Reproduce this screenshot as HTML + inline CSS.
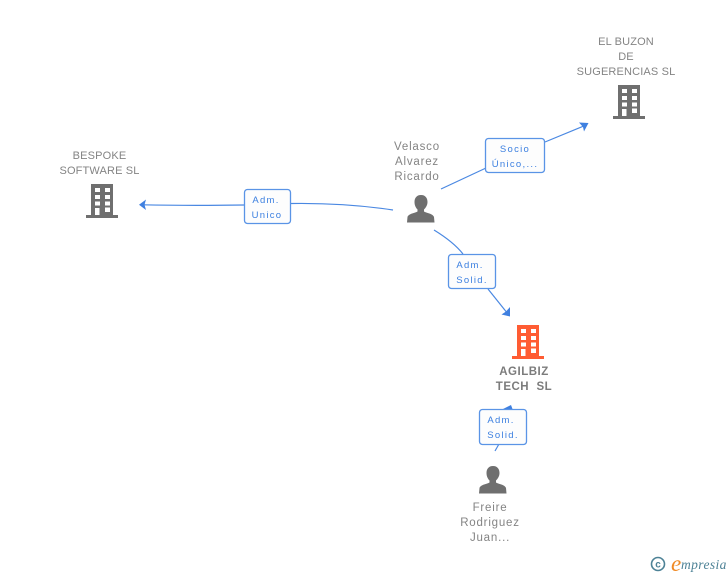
<!DOCTYPE html>
<html><head><meta charset="utf-8">
<style>
html,body{margin:0;padding:0;background:#fff}
svg{display:block}
text{font-family:"Liberation Sans",sans-serif}
.n{font-size:11px;fill:#848484;text-anchor:middle;letter-spacing:.15px}
.p{font-size:11.500px;fill:#848484;text-anchor:middle;letter-spacing:.8px}
.b{font-size:11.500px;fill:#7c7c7c;text-anchor:middle;font-weight:bold;letter-spacing:.5px}
.l{font-size:9.500px;fill:#3b7fe0;text-anchor:middle;letter-spacing:1.300px}
.c{fill:none;stroke:#4a88e2;stroke-width:1.200}
.box{fill:#fdfdfd;stroke:#5a94e6;stroke-width:1.300}
</style></head>
<body>
<svg width="728" height="575" viewBox="0 0 728 575" xmlns="http://www.w3.org/2000/svg">
<defs>
<symbol id="bld" width="32" height="34" viewBox="0 0 32 34" overflow="visible">
<path fill="currentColor" d="M5 0H27V31H32V34H0V31H5Z"/>
<g fill="#fff">
<rect x="9" y="4" width="5" height="4"/><rect x="19" y="4" width="5" height="4"/>
<rect x="9" y="11" width="5" height="4"/><rect x="19" y="11" width="5" height="4"/>
<rect x="9" y="17.500" width="5" height="4"/><rect x="19" y="17.500" width="5" height="4"/>
<rect x="9" y="24" width="4.500" height="7"/><rect x="19" y="23.500" width="5" height="4.500"/>
</g>
</symbol>
<symbol id="per" width="28" height="28" viewBox="0 0 28 28">
<path fill="#6f6f6f" d="M14 0C9.500 0 7.500 3.200 7.500 7C7.500 10.500 9 13 10.500 14.500V16.500C8.500 18 1.500 18.500.5 22L0 27.500H27.500L27 22C26 18.500 19 18 17 16.500V14.500C18.500 13 20.500 10.500 20.500 7C20.500 3.200 18.500 0 14 0Z"/>
</symbol>
</defs>

<!-- connectors -->
<path class="c" d="M441 189L486 168"/>
<path class="c" d="M545 142L585 125.500"/>
<path fill="#3f80e0" d="M588.500 123L579 122.500L583 127L584 131.500Z"/>

<path class="c" d="M393 210C360 205 325 203 291 203.500"/>
<path class="c" d="M244 205C210 205.500 175 205.500 143 204.800"/>
<path fill="#3f80e0" d="M139 204.800L146 199.500L144.500 204.800L146 210Z"/>

<path class="c" d="M434 230C447 238 456 245 463 254"/>
<path class="c" d="M488 289L508 314"/>
<path fill="#3f80e0" d="M510 316.500L510 307L506 311.500L501.500 314.500Z"/>

<path fill="#3f80e0" d="M503 409L511 405L512.500 409Z"/>
<path class="c" d="M499 444L495 451"/>

<!-- label boxes -->
<rect class="box" x="485.500" y="138.500" width="59" height="34" rx="3"/>
<text class="l" x="515" y="152">Socio</text>
<text class="l" x="515" y="167">Único,...</text>

<rect class="box" x="244.500" y="189.500" width="46" height="34" rx="3"/>
<text class="l" x="266" y="203">Adm.</text>
<text class="l" x="267" y="218">Unico</text>

<rect class="box" x="448.500" y="254.500" width="47" height="34" rx="3"/>
<text class="l" x="470" y="268">Adm.</text>
<text class="l" x="472" y="283">Solid.</text>

<rect class="box" x="479.500" y="409.500" width="47" height="35" rx="3"/>
<text class="l" x="501" y="423">Adm.</text>
<text class="l" x="503" y="438">Solid.</text>

<!-- nodes -->
<use href="#bld" x="613" y="85" color="#6f6f6f"/>
<text class="n" x="626" y="45">EL BUZON</text>
<text class="n" x="626" y="60">DE</text>
<text class="n" x="626" y="75">SUGERENCIAS SL</text>

<use href="#bld" x="86" y="184" color="#6f6f6f"/>
<text class="n" x="99.500" y="159">BESPOKE</text>
<text class="n" x="99.500" y="174">SOFTWARE SL</text>

<use href="#bld" x="512" y="325" color="#ff5c33"/>
<text class="b" x="524" y="375">AGILBIZ</text>
<text class="b" x="524" y="390" xml:space="preserve">TECH  SL</text>

<use href="#per" x="407" y="195"/>
<text class="p" x="417" y="150">Velasco</text>
<text class="p" x="417" y="165">Alvarez</text>
<text class="p" x="417" y="180">Ricardo</text>

<use href="#per" x="479" y="466"/>
<text class="p" x="490" y="511">Freire</text>
<text class="p" x="490" y="526">Rodriguez</text>
<text class="p" x="490" y="541">Juan...</text>

<!-- logo -->
<circle cx="658" cy="564" r="6.500" fill="none" stroke="#4d8296" stroke-width="1.600"/>
<text x="658" y="567.500" font-size="10" text-anchor="middle" fill="#4d8296" style="font-weight:bold">c</text>
<text x="671" y="571" font-size="23" fill="#f08a24" style="font-family:'Liberation Serif',serif;font-style:italic">e</text>
<text x="681" y="569" font-size="13.500" fill="#4d8296" style="font-family:'Liberation Serif',serif;font-style:italic;letter-spacing:.4px">mpresia</text>
</svg>
</body></html>
